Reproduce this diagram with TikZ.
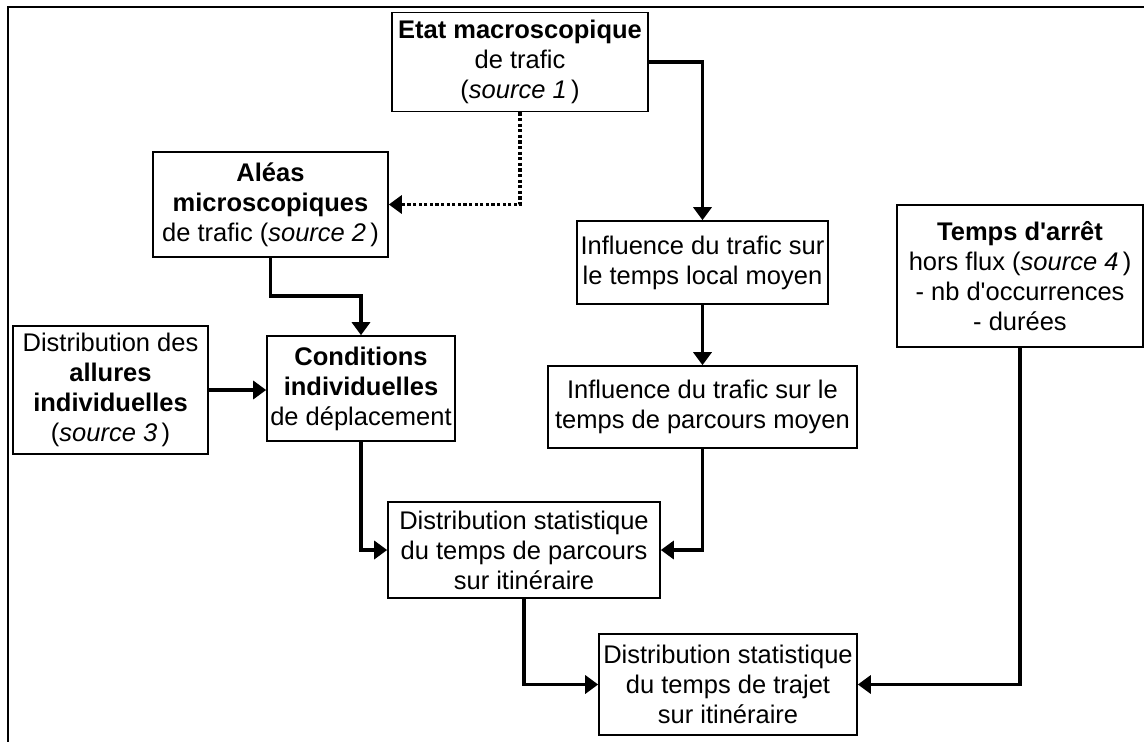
\documentclass[tikz,border=0pt]{standalone}
\usepackage{fontspec}
\setmainfont{Liberation Sans}
\usetikzlibrary{arrows.meta}
\begin{document}
\begin{tikzpicture}[x=1pt,y=-1pt,
  box/.style={draw, line width=1.6pt, align=center, inner sep=0pt,
    font=\fontsize{25.5}{30}\selectfont},
  conn/.style={line width=3.4pt, -{Triangle[length=13pt,width=18pt]}},
  dotconn/.style={conn, dash pattern=on 3.2pt off 2.4pt},
  frame/.style={line width=2.6pt}]
\useasboundingbox (0,0) rectangle (1144,742);
\fill[white] (0,0) rectangle (1144,742);
% frame
\coordinate (fBL) at (8,742);
\coordinate (fTL) at (8,7);
\coordinate (fTR) at (1144,7);
\draw[frame] (fBL) -- (fTL) -- (fTR);
% nodes
\node[box, minimum width=256pt, minimum height=99pt] (etat) at (520,62)
  {\textbf{Etat macroscopique}\\de trafic\\(\textit{source 1}\,)};
\node[box, minimum width=235pt, minimum height=105pt] (aleas) at (270.5,204.5)
  {\textbf{Aléas}\\\textbf{microscopiques}\\de trafic (\textit{source 2}\,)};
\node[box, minimum width=251pt, minimum height=83pt] (inf1) at (702.5,262.5)
  {Influence du trafic sur\\le temps local moyen};
\node[box, minimum width=309pt, minimum height=82pt] (inf2) at (702.5,407)
  {Influence du trafic sur le\\temps de parcours moyen};
\node[box, minimum width=246pt, minimum height=142pt] (temps) at (1020,276)
  {\textbf{Temps d\textquotesingle arrêt}\\hors flux (\textit{source 4}\,)\\- nb d\textquotesingle occurrences\\- durées};
\node[box, minimum width=195pt, minimum height=128pt] (allures) at (110.5,390)
  {Distribution des\\\textbf{allures}\\\textbf{individuelles}\\(\textit{source 3}\,)};
\node[box, minimum width=188pt, minimum height=105pt] (cond) at (361,388.5)
  {\textbf{Conditions}\\\textbf{individuelles}\\de déplacement};
\node[box, minimum width=272pt, minimum height=96pt] (distp) at (524,550)
  {Distribution statistique\\du temps de parcours\\sur itinéraire};
\node[box, minimum width=258pt, minimum height=101pt] (trajet) at (728,684.5)
  {Distribution statistique\\du temps de trajet\\sur itinéraire};
% connectors
\draw[conn] (etat.east) -| (inf1.north);
\draw[dotconn] (etat.south) |- (aleas.east);
\draw[conn] (aleas.south) -- ++(0,38) -| (cond.north);
\draw[conn] (allures.east) -- (allures.east -| cond.west);
\draw[conn] (inf1.south) -- (inf2.north);
\draw[conn] (inf2.south) |- (distp.east);
\draw[conn] (cond.south) |- (distp.west);
\draw[conn] (distp.south) |- (trajet.west);
\draw[conn] (temps.south) |- (trajet.east);
\end{tikzpicture}
\end{document}
